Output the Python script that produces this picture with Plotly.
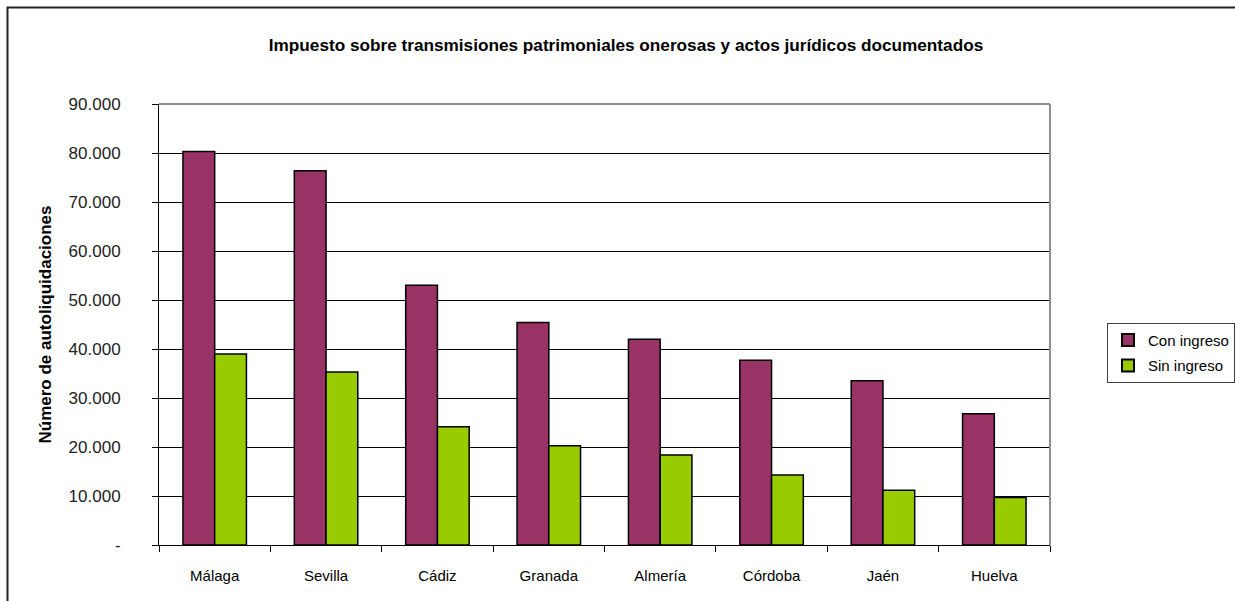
import plotly.graph_objects as go

provincias = ['Málaga', 'Sevilla', 'Cádiz', 'Granada', 'Almería', 'Córdoba', 'Jaén', 'Huelva']
con_ingreso = [80300, 76400, 53000, 45400, 42000, 37700, 33500, 26800]
sin_ingreso = [39000, 35300, 24150, 20250, 18350, 14300, 11150, 9700]

y_ticks = [0, 10000, 20000, 30000, 40000, 50000, 60000, 70000, 80000, 90000]
y_labels = ['-', '10.000', '20.000', '30.000', '40.000', '50.000', '60.000', '70.000', '80.000', '90.000']

font = 'Liberation Sans, Arial, sans-serif'

fig = go.Figure()
fig.add_trace(go.Bar(x=provincias, y=con_ingreso, name='Con ingreso', legendgroup='a',
                     marker=dict(color='#993366', line=dict(color='#000000', width=1.5))))
fig.add_trace(go.Bar(x=provincias, y=sin_ingreso, name='Sin ingreso', legendgroup='b',
                     marker=dict(color='#99CC00', line=dict(color='#000000', width=1.5))))

W, H = 1235, 601
L, T = 159, 104
PW, PH = 891, 441.5

fig.update_layout(
    width=W, height=H,
    margin=dict(l=L, r=W - L - PW, t=T, b=H - T - PH, autoexpand=False),
    paper_bgcolor='white', plot_bgcolor='white',
    barmode='group', bargap=0.43, bargroupgap=0,
    title=dict(text='<b>Impuesto sobre transmisiones patrimoniales onerosas y actos jurídicos documentados</b>',
               font=dict(family=font, size=17.2, color='black'),
               x=626 / W, xanchor='center', y=1 - 45 / H, yanchor='middle', yref='container'),
    legend=dict(x=(1107 - L) / PW, y=(545.5 - 323) / PH, xanchor='left', yanchor='top',
                bordercolor='#404040', borderwidth=1, bgcolor='white',
                font=dict(family=font, size=15, color='black'),
                tracegroupgap=3, itemsizing='constant'),
    xaxis=dict(showline=True, linecolor='black', linewidth=1,
               ticks='outside', tickson='boundaries', ticklen=6, tickcolor='black',
               ticklabelstandoff=17,
               tickfont=dict(family=font, size=15, color='black'), showgrid=False),
    yaxis=dict(range=[0, 90000], tickvals=y_ticks, ticktext=y_labels,
               showline=True, linecolor='black', linewidth=1,
               ticks='outside', ticklen=6, tickcolor='black', ticklabelstandoff=28,
               showgrid=True, gridcolor='black', gridwidth=1, zeroline=False,
               tickfont=dict(family=font, size=17, color='#222222'),
               title=dict(text='<b>Número de autoliquidaciones</b>',
                          font=dict(family=font, size=17, color='black'), standoff=12)),
    showlegend=True,
)

# gray top and right edge of the plot area
fig.add_shape(type='line', xref='paper', yref='paper', x0=0, x1=1, y0=1, y1=1,
              line=dict(color='#909090', width=2))
fig.add_shape(type='line', xref='paper', yref='paper', x0=1, x1=1, y0=0, y1=1,
              line=dict(color='#909090', width=2))
# outer chart border (runs off the right and bottom edges)
fig.add_shape(type='rect', xref='paper', yref='paper',
              x0=(7.5 - L) / PW, x1=(W + 20 - L) / PW, y0=-0.3, y1=1 + (T - 7.5) / PH,
              line=dict(color='#222222', width=2), layer='below')

fig.write_html('out.html', config={'displayModeBar': False},
               post_script="document.body.style.margin='0';document.body.style.overflow='hidden';")
